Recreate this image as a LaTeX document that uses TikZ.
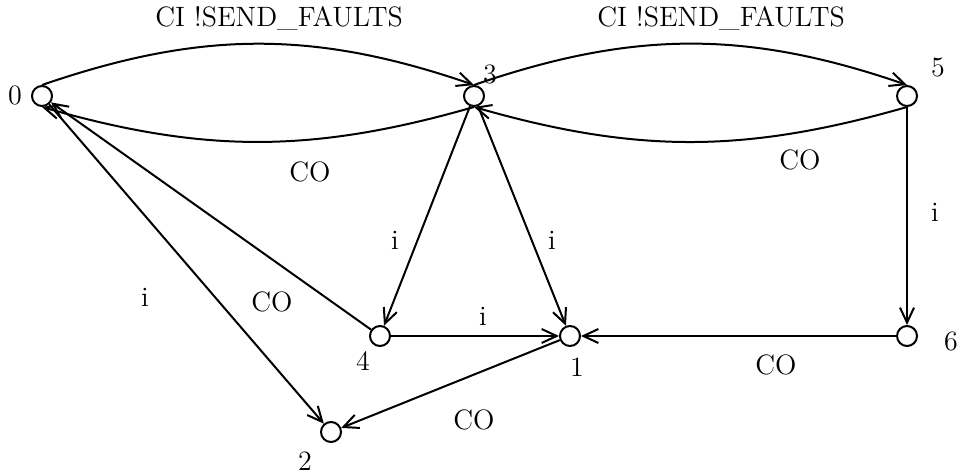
\documentclass[tikz,border=0pt]{standalone}
\usetikzlibrary{arrows.meta}
\begin{document}
\begin{tikzpicture}[x=0.5pt,y=-0.5pt,
  state/.style={circle,draw,line width=1pt,minimum size=10pt,inner sep=0pt},
  trans/.style={line width=1pt,-{Straight Barb[length=7.5pt,width=7pt,line width=1pt]}},
  lbl/.style={font=\fontsize{14}{17}\selectfont,inner sep=0pt}]
\useasboundingbox (0,0) rectangle (961,475);
\node[state] (q0) at (42,96) {};
\node[state] (q3) at (474,96) {};
\node[state] (q5) at (907,96) {};
\node[state] (q4) at (380,336) {};
\node[state] (q1) at (570,336) {};
\node[state] (q6) at (907,336) {};
\node[state] (q2) at (331,432) {};
\node[lbl] (n0) at (15,95) {0};
\node[lbl] (n3) at (490,74) {3};
\node[lbl] (n5) at (938,68) {5};
\node[lbl] (n4) at (363,361) {4};
\node[lbl] (n1) at (577,367) {1};
\node[lbl] (n6) at (951,341) {6};
\node[lbl] (n2) at (305,461) {2};
\draw[trans] (q0.north) to[out=19,in=161] (q3.north);
\draw[trans] (q3.south) to[out=196,in=-16] (q0.south);
\draw[trans] (q3.north) to[out=19,in=161] (q5.north);
\draw[trans] (q5.south) to[out=196,in=-16] (q3.south);
\draw[trans] (q3) -- (q4);
\draw[trans] (q3) -- (q1);
\draw[trans] (q4) -- (q1);
\draw[trans] (q4) -- (q0);
\draw[trans] (q0) -- (q2);
\draw[trans] (q1) -- (q2);
\draw[trans] (q6) -- (q1);
\draw[trans] (q5) -- (q6);
\node[lbl,anchor=west] (t03) at (155,18) {CI !SEND\_FAULTS};
\node[lbl,anchor=west] (t35) at (597,18) {CI !SEND\_FAULTS};
\node[lbl] (t30) at (310,172) {CO};
\node[lbl] (t53) at (800,160) {CO};
\node[lbl] (t34) at (395,240) {i};
\node[lbl] (t31) at (552,240) {i};
\node[lbl] (t56) at (935,212) {i};
\node[lbl] (t02) at (145,297) {i};
\node[lbl] (t40) at (272,302) {CO};
\node[lbl] (t41) at (483,316) {i};
\node[lbl] (t61) at (776,365) {CO};
\node[lbl] (t12) at (474,420) {CO};
\end{tikzpicture}
\end{document}
